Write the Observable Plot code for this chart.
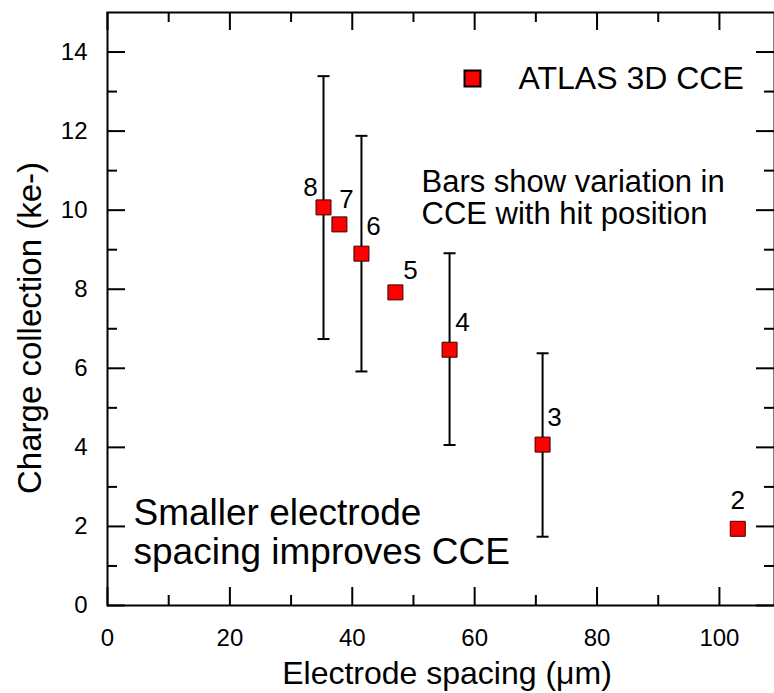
<!DOCTYPE html>
<html><head><meta charset="utf-8">
<script src="https://cdn.jsdelivr.net/npm/d3@7"></script>
<script src="https://cdn.jsdelivr.net/npm/@observablehq/plot@0.6"></script>
<style>
body{margin:0;background:#fff;}
#chart svg{font-family:"Liberation Sans",Arial,Helvetica,sans-serif;}
</style>
</head><body><div id="chart"></div>
<script>
// ---- data ----
const labels  = ["2", "3", "4", "5", "6", "7", "8"];
const spacing = [103.0, 71.1, 55.9, 47.05, 41.5, 37.9, 35.3];
const cce     = [1.94, 4.07, 6.47, 7.92, 8.90, 9.64, 10.07];
const errLow  = [null, 1.74, 4.06, null, 5.92, null, 6.74];
const errHigh = [null, 6.38, 8.91, null, 11.88, null, 13.39];
const xMajorTicks = [0, 20, 40, 60, 80, 100];
const xMinorTicks = [10, 30, 50, 70, 90];
const yMajorTicks = [0, 2, 4, 6, 8, 10, 12, 14];
const yMinorTicks = [1, 3, 5, 7, 9, 11, 13];
const legendLabel = "ATLAS 3D CCE";
const noteBarsLines = ["Bars show variation in", "CCE with hit position"];
const noteSpacing = "Smaller electrode\nspacing improves CCE";
const xLabel = "Electrode spacing (μm)";
const yLabel = "Charge collection (ke-)";

// ---- styles (pixel offsets of the point labels) ----
const labelOffset = {"2":[0,-28], "3":[12,-27], "4":[13,-27], "5":[15,-22], "6":[12,-27], "7":[7,-25], "8":[-13,-20]};

const points = labels.map((l, i) => ({label: l, x: spacing[i], y: cce[i], lo: errLow[i], hi: errHigh[i]}));
const bars = points.filter(d => d.lo != null);

const W = 774, H = 693, mL = 107, mT = 12, mR = 0, mB = 88;
const pw = W - mL - mR, ph = H - mT - mB;
const capSymbol = {draw(ctx, size) { const w = Math.sqrt(size) / 2; ctx.moveTo(-w, 0); ctx.lineTo(w, 0); }};
const font = "Liberation Sans, Arial, Helvetica, sans-serif";

const plot = Plot.plot({
  width: W, height: H,
  marginLeft: mL, marginTop: mT, marginRight: mR, marginBottom: mB,
  x: {domain: [0, 109], axis: null},
  y: {domain: [0, 15], axis: null},
  style: {fontFamily: font, fontSize: "24px", color: "#000", background: "#fff", overflow: "visible"},
  marks: [
    // tick labels
    Plot.text(xMajorTicks, {x: d => d, text: d => String(d), frameAnchor: "bottom", dy: 23, lineAnchor: "top", textAnchor: "middle", fontSize: 24, fill: "#000"}),
    Plot.text(yMajorTicks, {y: d => d, text: d => String(d), frameAnchor: "left", dx: -20, textAnchor: "end", lineAnchor: "middle", fontSize: 24, fill: "#000"}),
    // inward ticks: bottom, top
    Plot.tickX(xMajorTicks, {x: d => d, insetTop: ph - 18, stroke: "#000", strokeWidth: 2}),
    Plot.tickX(xMinorTicks, {x: d => d, insetTop: ph - 10, stroke: "#000", strokeWidth: 2}),
    Plot.tickX(xMajorTicks, {x: d => d, insetBottom: ph - 18, stroke: "#000", strokeWidth: 2}),
    Plot.tickX(xMinorTicks, {x: d => d, insetBottom: ph - 10, stroke: "#000", strokeWidth: 2}),
    // inward ticks: left, right
    Plot.tickY(yMajorTicks, {y: d => d, insetRight: pw - 18, stroke: "#000", strokeWidth: 2}),
    Plot.tickY(yMinorTicks, {y: d => d, insetRight: pw - 10, stroke: "#000", strokeWidth: 2}),
    Plot.tickY(yMajorTicks, {y: d => d, insetLeft: pw - 18, stroke: "#000", strokeWidth: 2}),
    Plot.tickY(yMinorTicks, {y: d => d, insetLeft: pw - 10, stroke: "#000", strokeWidth: 2}),
    Plot.frame({stroke: "#000", strokeWidth: 2}),
    // error bars
    Plot.ruleX(bars, {x: "x", y1: "lo", y2: "hi", stroke: "#000", strokeWidth: 2}),
    Plot.dot(bars, {x: "x", y: "lo", symbol: capSymbol, r: 6.77, stroke: "#000", strokeWidth: 2, fill: "none"}),
    Plot.dot(bars, {x: "x", y: "hi", symbol: capSymbol, r: 6.77, stroke: "#000", strokeWidth: 2, fill: "none"}),
    // markers
    Plot.dot(points, {x: "x", y: "y", symbol: "square", r: 8.46, fill: "#ff0000", stroke: "#3a0000", strokeWidth: 1}),
    // point labels
    ...points.map(p => Plot.text([p], {x: "x", y: "y", text: "label", dx: labelOffset[p.label][0], dy: labelOffset[p.label][1], fontSize: 26, fill: "#000", lineAnchor: "middle"})),
    // legend
    Plot.dot([legendLabel], {frameAnchor: "top-left", dx: 365, dy: 66, symbol: "square", r: 9.0, fill: "#ff0000", stroke: "#000", strokeWidth: 2}),
    Plot.text([legendLabel], {text: d => d, frameAnchor: "top-left", dx: 411, dy: 66, textAnchor: "start", lineAnchor: "middle", fontSize: 32, fill: "#000"}),
    // annotations
    Plot.text([noteBarsLines[0]], {text: d => d, frameAnchor: "top-left", dx: 314, dy: 179, textAnchor: "start", lineAnchor: "bottom", fontSize: 31, fill: "#000"}),
    Plot.text([noteBarsLines[1]], {text: d => d, frameAnchor: "top-left", dx: 314, dy: 211, textAnchor: "start", lineAnchor: "bottom", fontSize: 31, fill: "#000"}),
    Plot.text([noteSpacing], {text: d => d, frameAnchor: "bottom-left", dx: 26, dy: -42, textAnchor: "start", lineAnchor: "bottom", fontSize: 37, lineHeight: 1.03, fill: "#000"}),
    // axis titles
    Plot.text([xLabel], {text: d => d, frameAnchor: "bottom", dx: 6, dy: 78, textAnchor: "middle", lineAnchor: "bottom", fontSize: 32, fill: "#000"}),
    Plot.text([yLabel], {text: d => d, frameAnchor: "left", dx: -77, dy: 19, rotate: -90, textAnchor: "middle", lineAnchor: "middle", fontSize: 33, fill: "#000"})
  ]
});
document.getElementById("chart").appendChild(plot);
</script>
</body></html>
